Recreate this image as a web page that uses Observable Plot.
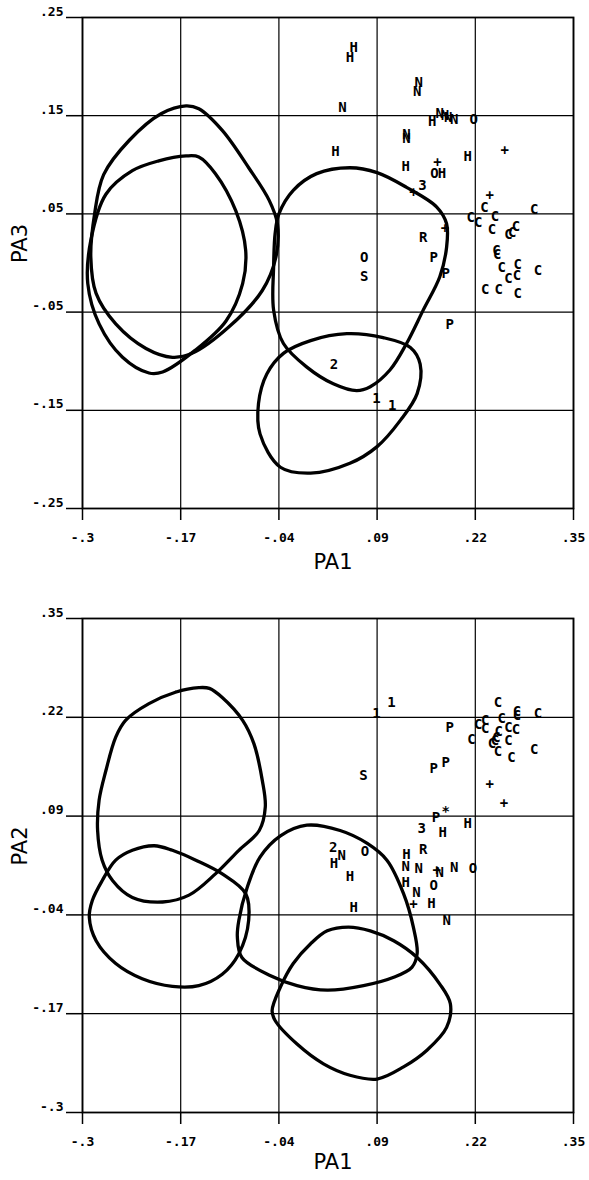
<!DOCTYPE html>
<html>
<head>
<meta charset="utf-8">
<script src="https://cdn.jsdelivr.net/npm/d3@7"></script>
<script src="https://cdn.jsdelivr.net/npm/@observablehq/plot@0.6"></script>
<style>
  html, body { margin: 0; padding: 0; background: #fff; }
  #chart svg { display: block; }
</style>
</head>
<body>
<div id="chart"></div>
<script>
// ---------- tick values and labels ----------
const pa1Ticks = [-0.3, -0.17, -0.04, 0.09, 0.22, 0.35];
const pa1Labels = ["-.3", "-.17", "-.04", ".09", ".22", ".35"];
const pa3Ticks = [-0.25, -0.15, -0.05, 0.05, 0.15, 0.25];
const pa3Labels = ["-.25", "-.15", "-.05", ".05", ".15", ".25"];
const pa2Ticks = [-0.3, -0.17, -0.04, 0.09, 0.22, 0.35];
const pa2Labels = ["-.3", "-.17", "-.04", ".09", ".22", ".35"];

// ---------- top panel (PA1 x PA3): outlines ----------
const topCurve1 = [[-0.163,0.160],[-0.146,0.157],[-0.115,0.135],[-0.080,0.097],[-0.053,0.064],[-0.042,0.040],[-0.044,0.006],[-0.062,-0.028],[-0.106,-0.065],[-0.155,-0.092],[-0.181,-0.096],[-0.216,-0.087],[-0.256,-0.062],[-0.282,-0.031],[-0.289,0.006],[-0.284,0.050],[-0.272,0.090],[-0.238,0.125],[-0.196,0.152]];
const topCurve2 = [[-0.163,0.109],[-0.146,0.108],[-0.124,0.091],[-0.097,0.053],[-0.084,0.013],[-0.088,-0.021],[-0.110,-0.059],[-0.151,-0.089],[-0.194,-0.111],[-0.212,-0.112],[-0.247,-0.096],[-0.278,-0.062],[-0.293,-0.021],[-0.289,0.023],[-0.269,0.070],[-0.234,0.094],[-0.199,0.104]];
const topCurve3 = [[-0.040,0.050],[-0.021,0.074],[0.010,0.091],[0.054,0.097],[0.090,0.092],[0.129,0.077],[0.169,0.057],[0.182,0.040],[0.182,0.016],[0.173,-0.014],[0.151,-0.048],[0.129,-0.082],[0.107,-0.109],[0.081,-0.126],[0.063,-0.130],[0.032,-0.123],[-0.003,-0.106],[-0.034,-0.082],[-0.047,-0.048],[-0.047,-0.004],[-0.045,0.030]];
const topCurve4 = [[0.050,-0.072],[0.098,-0.076],[0.134,-0.086],[0.147,-0.103],[0.143,-0.133],[0.121,-0.160],[0.090,-0.187],[0.054,-0.204],[0.002,-0.214],[-0.038,-0.208],[-0.065,-0.174],[-0.067,-0.143],[-0.056,-0.113],[-0.034,-0.092],[0.002,-0.079]];

// ---------- top panel: symbols ----------
const topSym = ["H","H","N","N","N","H","N","N","N","N","O","N","N","H","H","+","H","+","O","H","3","+","+","C","C","C","C","C","C","C","C","C","+","R","O","P","C","C","P","S","C","C","C","C","C","C","C","C","P","2","1","1"];
const topPA1 = [0.059,0.054,0.044,0.145,0.143,0.163,0.173,0.180,0.184,0.192,0.218,0.129,0.129,0.035,0.210,0.259,0.128,0.170,0.166,0.176,0.150,0.138,0.239,0.232,0.298,0.214,0.224,0.246,0.242,0.274,0.264,0.269,0.180,0.151,0.073,0.165,0.248,0.249,0.181,0.073,0.255,0.276,0.303,0.264,0.275,0.233,0.251,0.276,0.186,0.033,0.089,0.110];
const topPA3 = [0.219,0.209,0.158,0.184,0.175,0.144,0.152,0.150,0.148,0.146,0.146,0.131,0.127,0.114,0.108,0.115,0.098,0.102,0.091,0.091,0.079,0.072,0.069,0.057,0.054,0.046,0.041,0.047,0.034,0.037,0.029,0.031,0.035,0.026,0.006,0.006,0.013,0.009,-0.011,-0.014,-0.005,-0.002,-0.008,-0.016,-0.013,-0.027,-0.027,-0.031,-0.063,-0.103,-0.138,-0.145];

// ---------- bottom panel (PA1 x PA2): outlines ----------
const botCurve1 = [[-0.146,0.259],[-0.177,0.253],[-0.212,0.238],[-0.243,0.216],[-0.256,0.194],[-0.269,0.150],[-0.278,0.111],[-0.280,0.071],[-0.274,0.032],[-0.260,0.005],[-0.234,-0.017],[-0.194,-0.023],[-0.159,-0.014],[-0.124,0.014],[-0.093,0.045],[-0.066,0.071],[-0.058,0.102],[-0.062,0.137],[-0.073,0.185],[-0.088,0.216],[-0.115,0.246],[-0.132,0.258]];
const botCurve2 = [[-0.205,0.051],[-0.234,0.045],[-0.256,0.032],[-0.274,0.005],[-0.287,-0.021],[-0.291,-0.043],[-0.282,-0.074],[-0.256,-0.104],[-0.221,-0.124],[-0.181,-0.134],[-0.146,-0.133],[-0.115,-0.118],[-0.093,-0.091],[-0.080,-0.047],[-0.084,-0.012],[-0.115,0.014],[-0.150,0.032],[-0.181,0.045]];
const botCurve3 = [[-0.003,0.078],[-0.038,0.064],[-0.065,0.036],[-0.082,-0.004],[-0.093,-0.047],[-0.095,-0.069],[-0.089,-0.096],[-0.051,-0.120],[-0.016,-0.133],[0.024,-0.139],[0.072,-0.133],[0.112,-0.122],[0.136,-0.109],[0.143,-0.091],[0.138,-0.056],[0.125,-0.012],[0.103,0.032],[0.077,0.054],[0.041,0.071]];
const botCurve4 = [[0.052,-0.056],[0.024,-0.061],[0.002,-0.078],[-0.021,-0.104],[-0.038,-0.135],[-0.049,-0.166],[-0.045,-0.179],[-0.016,-0.210],[0.019,-0.236],[0.054,-0.251],[0.090,-0.256],[0.125,-0.240],[0.156,-0.218],[0.182,-0.188],[0.187,-0.157],[0.173,-0.131],[0.143,-0.096],[0.112,-0.074],[0.081,-0.061]];

// ---------- bottom panel: symbols ----------
const botSym = ["1","1","C","C","C","C","C","C","C","C","C","C","C","C","C","C","C","C","C","C","C","P","P","P","S","+","+","P","*","H","3","H","2","N","H","O","H","H","R","N","N","+","N","N","O","H","N","O","+","H","H","N"];
const botPA1 = [0.109,0.089,0.250,0.255,0.275,0.275,0.303,0.233,0.224,0.233,0.264,0.274,0.251,0.248,0.246,0.215,0.264,0.242,0.250,0.298,0.268,0.186,0.181,0.165,0.072,0.239,0.258,0.168,0.181,0.210,0.149,0.177,0.032,0.043,0.033,0.074,0.054,0.129,0.151,0.128,0.145,0.169,0.173,0.192,0.217,0.128,0.142,0.165,0.138,0.162,0.059,0.182];
const botPA2 = [0.240,0.225,0.239,0.218,0.227,0.222,0.225,0.216,0.211,0.205,0.207,0.204,0.201,0.193,0.189,0.191,0.190,0.185,0.175,0.178,0.167,0.207,0.161,0.152,0.143,0.132,0.106,0.088,0.096,0.080,0.074,0.069,0.049,0.038,0.027,0.044,0.010,0.040,0.046,0.024,0.021,0.018,0.016,0.023,0.021,0.003,-0.010,-0.001,-0.026,-0.025,-0.030,-0.047];

// ---------- helpers ----------
const curvesToRows = (list) => list.flatMap((pts, id) => pts.map(([x, y]) => ({id, x, y})));
const symRows = (s, xs, ys) => s.map((t, i) => ({t, x: xs[i], y: ys[i]}));
const mono = "DejaVu Sans Mono";
const sans = "DejaVu Sans";

function panel({height, marginTop, marginBottom, yDomain, yTicks, yLabels, yName, curves, syms, xLabelDy}) {
  return Plot.plot({
    width: 589,
    height,
    marginLeft: 82,
    marginRight: 16,
    marginTop,
    marginBottom,
    style: {background: "#fff", color: "#000", overflow: "visible"},
    x: {domain: [-0.3, 0.35]},
    y: {domain: yDomain},
    marks: [
      Plot.gridX(pa1Ticks, {stroke: "#000", strokeOpacity: 1, strokeWidth: 1.2}),
      Plot.gridY(yTicks, {stroke: "#000", strokeOpacity: 1, strokeWidth: 1.2}),
      Plot.frame({stroke: "#000", strokeWidth: 1.8}),
      Plot.axisX(pa1Ticks, {
        tickSize: 12, tickPadding: 12, strokeWidth: 1.5,
        tickFormat: d => pa1Labels[pa1Ticks.indexOf(d)],
        fontSize: 13, fontFamily: mono, fontWeight: "bold", label: null
      }),
      // tick lines on the y axis
      Plot.axisY(yTicks, {
        tickSize: 16, strokeWidth: 1.5,
        tickFormat: () => "", label: null
      }),
      // tick labels sitting just above their tick lines
      Plot.axisY(yTicks, {
        tickSize: 0, tickPadding: 19, dy: -6,
        tickFormat: d => yLabels[yTicks.indexOf(d)],
        fontSize: 13, fontFamily: mono, fontWeight: "bold", label: null
      }),
      Plot.line(curvesToRows(curves), {
        x: "x", y: "y", z: "id", curve: "catmull-rom-closed",
        stroke: "#000", strokeWidth: 3.3, strokeLinejoin: "round"
      }),
      Plot.text(syms, {
        x: "x", y: "y", text: "t",
        fontFamily: mono, fontWeight: "bold", fontSize: 14, fill: "#000"
      }),
      Plot.text(["PA1"], {frameAnchor: "bottom", dy: xLabelDy, dx: 5, fontSize: 21, fontFamily: sans, fill: "#000"}),
      Plot.text([yName], {frameAnchor: "left", dx: -62, rotate: -90, fontSize: 21, fontFamily: sans, fill: "#000"})
    ]
  });
}

const chart = document.getElementById("chart");
chart.append(panel({
  height: 590, marginTop: 17, marginBottom: 82,
  yDomain: [-0.25, 0.25], yTicks: pa3Ticks, yLabels: pa3Labels, yName: "PA3",
  curves: [topCurve1, topCurve2, topCurve3, topCurve4],
  syms: symRows(topSym, topPA1, topPA3), xLabelDy: 60
}));
chart.append(panel({
  height: 590, marginTop: 28, marginBottom: 68,
  yDomain: [-0.3, 0.35], yTicks: pa2Ticks, yLabels: pa2Labels, yName: "PA2",
  curves: [botCurve1, botCurve2, botCurve3, botCurve4],
  syms: symRows(botSym, botPA1, botPA2), xLabelDy: 56
}));
</script>
</body>
</html>
